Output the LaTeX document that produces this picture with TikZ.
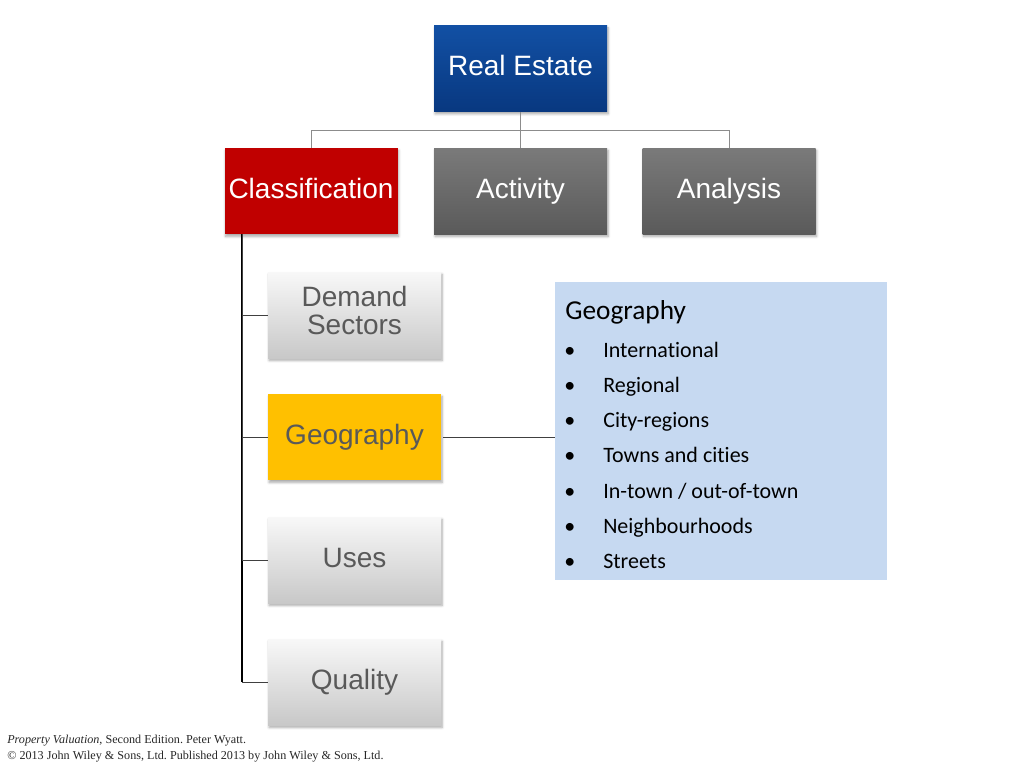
\documentclass[tikz,border=0pt]{standalone}
\usepackage{fontspec}
\setmainfont{Liberation Serif}
\newfontfamily\arialf{Liberation Sans}
\newfontfamily\calibrif[Ligatures=NoCommon]{Carlito}
\usetikzlibrary{shadows.blur,calc}
\definecolor{reblueT}{RGB}{18,80,164}
\definecolor{reblueB}{RGB}{8,56,128}
\definecolor{clred}{RGB}{192,0,0}
\definecolor{grT}{RGB}{122,122,122}
\definecolor{grB}{RGB}{90,90,90}
\definecolor{ltT}{RGB}{248,248,248}
\definecolor{ltB}{RGB}{200,200,200}
\definecolor{geoyel}{RGB}{255,192,0}
\definecolor{listblue}{RGB}{198,217,241}
\definecolor{txtgray}{RGB}{89,89,89}
\definecolor{linegray}{RGB}{140,140,140}
\tikzset{
  box/.style={minimum width=129.75pt, minimum height=64.5pt, inner sep=0pt,
    align=center, font=\arialf\fontsize{21}{21}\selectfont,
    blur shadow={shadow blur steps=6, shadow xshift=0.8pt, shadow yshift=-1.8pt, shadow opacity=35}},
  oneline/.style={text height=15pt, text depth=4.5pt},
  bluebox/.style={box, oneline, top color=reblueT, bottom color=reblueB, text=white},
  redbox/.style={box, oneline, fill=clred, text=white},
  graybox/.style={box, oneline, top color=grT, bottom color=grB, text=white},
  lightbox/.style={box, top color=ltT, bottom color=ltB, text=txtgray},
  yellowbox/.style={box, oneline, fill=geoyel, text=txtgray},
  toplink/.style={draw=linegray, line width=0.6pt},
  treelink/.style={draw=black, line width=0.9pt},
  geolink/.style={draw=black!75, line width=0.6pt},
  listtitle/.style={anchor=base west, inner sep=0pt, font=\calibrif\fontsize{20.5}{22}\selectfont},
  listitem/.style={anchor=base west, inner sep=0pt, font=\calibrif\fontsize{16.5}{18}\selectfont},
  foot/.style={anchor=base west, inner sep=0pt, font=\fontsize{9.1}{10}\selectfont, text=black!85}
}
\begin{document}
\frenchspacing
\begin{tikzpicture}[x=0.75pt,y=-0.75pt]
\useasboundingbox (0,0) rectangle (1024,768);
% top level
\node[bluebox] (re) at (520.5,68.5) {Real Estate};
\node[redbox] (cl) at (311,191) {Classification};
\node[graybox] (ac) at (520.5,191) {Activity};
\node[graybox] (an) at (729,191) {Analysis};
% second level
\node[lightbox] (ds) at (354.5,315) {Demand\\Sectors\strut};
\node[yellowbox] (ge) at (354.5,437) {Geography};
\node[lightbox, oneline] (us) at (354.5,560) {Uses};
\node[lightbox, oneline] (qu) at (354.5,682) {Quality};
% list box
\node[fill=listblue, minimum width=249pt, minimum height=223.5pt, inner sep=0pt] (list) at (721,431) {};
% connectors top
\coordinate (bus) at (520.5,130);
\draw[toplink] (re.south) -- (bus);
\draw[toplink] (cl.north) |- (bus);
\draw[toplink] (an.north) |- (bus);
\draw[toplink] (ac.north) -- (bus);
% tree
\coordinate (tl) at (242,234);
\coordinate (tb) at (242,682);
\draw[treelink] (tl) -- (tb);
\draw[geolink] (tl) |- (ds.west);
\draw[geolink] (tl) |- (ge.west);
\draw[geolink] (tl) |- (us.west);
\draw[geolink] (tb) -- (qu.west);
\draw[geolink] ([xshift=1.5pt]ge.east) -- (list.west |- ge.east);
% list content
\node[listtitle] (lt) at (565,319) {Geography};
\foreach \i/\t in {0/{International},1/{Regional},2/{City-regions},3/{Towns and cities},4/{In-town / out-of-town},5/{Neighbourhoods},6/{Streets}}{
  \node[listitem] (b\i) at (564,357+35.3*\i) {\textbullet};
  \node[listitem] (it\i) at (603,357+35.3*\i) {\t};
}
% footer
\node[foot] (f1) at (7,743) {\textit{Property Valuation}, Second Edition. Peter Wyatt.};
\node[foot] (f2) at (7,759) {\textcopyright{} 2013 John Wiley \& Sons, Ltd. Published 2013 by John Wiley \& Sons, Ltd.};
\end{tikzpicture}
\end{document}
